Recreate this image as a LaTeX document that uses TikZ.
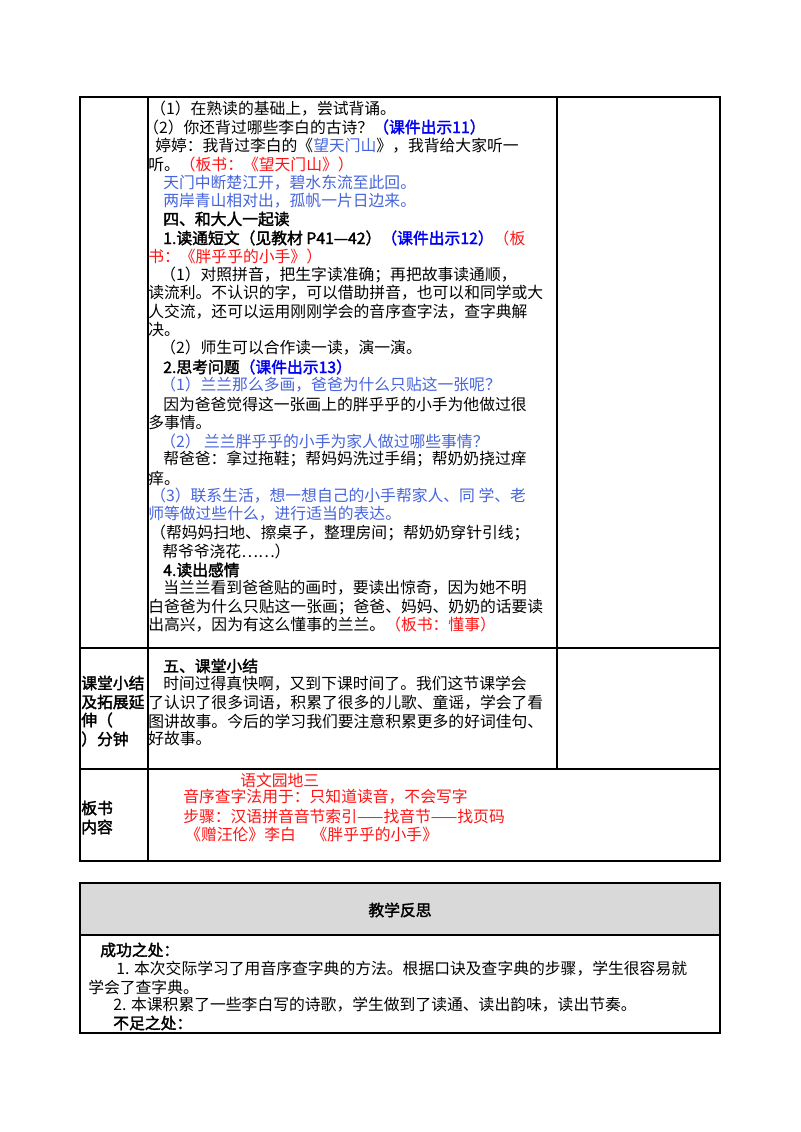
\documentclass[tikz,border=0pt]{standalone}
\usepackage{fontspec}
\setmainfont{Noto Sans CJK SC}[AutoFakeBold=2]
\definecolor{kb}{RGB}{0,0,240}
\definecolor{lb}{RGB}{70,100,220}
\definecolor{rd}{RGB}{255,20,20}
\definecolor{hd}{RGB}{217,217,217}
\tikzset{t/.style={anchor=west,inner sep=0pt,font=\fontsize{11.85pt}{13pt}\selectfont},
frame/.style={line width=0.9pt,black}}
\begin{document}
\begin{tikzpicture}[x=0.75pt,y=-0.75pt]
\useasboundingbox (0,0) rectangle (800,1132);
% table 1
\draw[frame] (80,97) rectangle (720,861);
\draw[frame] (148,97) -- (148,861);
\draw[frame] (557,97) -- (557,769);
\draw[frame] (80,648) -- (720,648);
\draw[frame] (80,769) -- (720,769);
% table 2
\fill[hd] (80,883) rectangle (720,935);
\draw[frame] (80,883) rectangle (720,1033);
\draw[frame] (80,935) -- (720,935);
\node[t] (a1) at (150,109) {（1）在熟读的基础上，尝试背诵。};
\node[t] (a2) at (143,127) {（2）你还背过哪些李白的古诗？\textcolor{kb}{\bfseries（课件出示11）}};
\node[t] (a3) at (155,146) {婷婷：我背过李白的《\textcolor{lb}{望天门山}》，我背给大家听一};
\node[t] (a4) at (148,164) {听。\textcolor{rd}{（板书：《望天门山》）}};
\node[t,text=lb] (a5) at (163,183) {天门中断楚江开，碧水东流至此回。};
\node[t,text=lb] (a6) at (163,201) {两岸青山相对出，孤帆一片日边来。};
\node[t] (a7) at (163,219) {\bfseries 四、和大人一起读};
\node[t] (a8) at (163,238) {\bfseries 1.读通短文（见教材 P41—42）\textcolor{kb}{（课件出示12）}\textcolor{rd}{\mdseries（板}};
\node[t,text=rd] (a9) at (148,256) {书：《胖乎乎的小手》）};
\node[t] (a10) at (160,275) {（1）对照拼音，把生字读准确；再把故事读通顺，};
\node[t] (a11) at (148,293) {读流利。不认识的字，可以借助拼音，也可以和同学或大};
\node[t] (a12) at (148,312) {人交流，还可以运用刚刚学会的音序查字法，查字典解};
\node[t] (a13) at (148,330) {决。};
\node[t] (a14) at (160,348) {（2）师生可以合作读一读，演一演。};
\node[t] (a15) at (163,367) {\bfseries 2.思考问题\textcolor{kb}{（课件出示13）}};
\node[t,text=lb] (a16) at (160,385) {（1）兰兰那么多画，爸爸为什么只贴这一张呢？};
\node[t] (a17) at (163,404) {因为爸爸觉得这一张画上的胖乎乎的小手为他做过很};
\node[t] (a18) at (148,422) {多事情。};
\node[t,text=lb] (a19) at (160,441) {（2） 兰兰胖乎乎的小手为家人做过哪些事情？};
\node[t] (a20) at (163,459) {帮爸爸：拿过拖鞋；帮妈妈洗过手绢；帮奶奶挠过痒};
\node[t] (a21) at (148,478) {痒。};
\node[t,text=lb] (a22) at (150,496) {（3）联系生活，想一想自己的小手帮家人、同 学、老};
\node[t,text=lb] (a23) at (148,514) {师等做过些什么，进行适当的表达。};
\node[t] (a24) at (150,533) {（帮妈妈扫地、擦桌子，整理房间；帮奶奶穿针引线；};
\node[t] (a25) at (162,551) {帮爷爷浇花……）};
\node[t] (a26) at (163,570) {\bfseries 4.读出感情};
\node[t] (a27) at (163,588) {当兰兰看到爸爸贴的画时，要读出惊奇，因为她不明};
\node[t] (a28) at (148,607) {白爸爸为什么只贴这一张画；爸爸、妈妈、奶奶的话要读};
\node[t] (a29) at (148,625) {出高兴，因为有这么懂事的兰兰。\textcolor{rd}{（板书：懂事）}};
% row 2
\node[t] (b1) at (163,666) {\bfseries 五、课堂小结};
\node[t] (b2) at (163,684) {时间过得真快啊，又到下课时间了。我们这节课学会};
\node[t] (b3) at (148,703) {了认识了很多词语，积累了很多的儿歌、童谣，学会了看};
\node[t] (b4) at (148,721) {图讲故事。今后的学习我们要注意积累更多的好词佳句、};
\node[t] (b5) at (148,739) {好故事。};
\node[t] (c1) at (81,683) {\bfseries 课堂小结};
\node[t] (c2) at (81,702) {\bfseries 及拓展延};
\node[t] (c3) at (81,720) {\bfseries 伸（};
\node[t] (c4) at (81,739) {\bfseries ）分钟};
% row 3
\node[t,text=rd] (d1) at (240,780) {语文园地三};
\node[t,text=rd] (d2) at (183,797) {音序查字法用于：只知道读音，不会写字};
\node[t,text=rd] (d3) at (183,816) {步骤：汉语拼音音节索引——找音节——找页码};
\node[t,text=rd] (d4) at (185,834) {《赠汪伦》李白　《胖乎乎的小手》};
\node[t] (e1) at (81,808) {\bfseries 板书};
\node[t] (e2) at (81,827) {\bfseries 内容};
% table 2
\node[t,anchor=center] (f0) at (400,910) {\bfseries 教学反思};
\node[t] (f1) at (100,950) {\bfseries 成功之处：};
\node[t] (f2) at (116,969) {1. 本次交际学习了用音序查字典的方法。根据口诀及查字典的步骤，学生很容易就};
\node[t] (f3) at (88,987) {学会了查字典。};
\node[t] (f4) at (113,1005) {2. 本课积累了一些李白写的诗歌，学生做到了读通、读出韵味，读出节奏。};
\node[t] (f5) at (113,1023) {\bfseries 不足之处：};
\end{tikzpicture}
\end{document}
